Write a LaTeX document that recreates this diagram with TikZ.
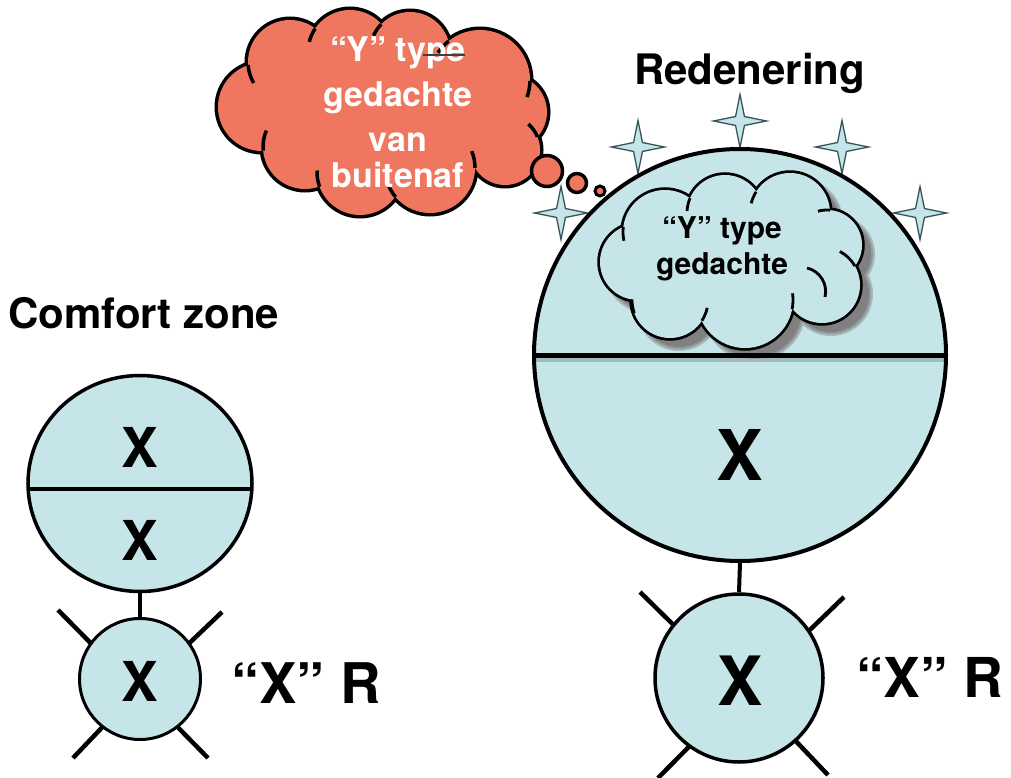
\documentclass[tikz,border=0pt]{standalone}
\usepackage{fontspec}
\setmainfont{TeX Gyre Heros}
\usetikzlibrary{shapes.geometric}

\definecolor{paleblue}{HTML}{C5E5E9}
\definecolor{salmon}{HTML}{EF775F}
\definecolor{starline}{HTML}{35555B}
\definecolor{lineshade}{HTML}{9EBBBF}
\definecolor{shadowgray}{HTML}{808080}

\newcommand\boldsize[2]{\fontsize{#1}{#2}\selectfont\bfseries}
% inner stroke of a cloud: part of a lobe circle (cx, cy, r, from, to, style)
\newcommand\lobehook[6]{\draw[#6] (#1,#2) ++(#4:#3) arc[start angle=#4, end angle=#5, radius=#3];}

% lobes of the two thought clouds: x/y/radius
\def\redlobes{262/107/44, 290/62/42, 350/52/42, 410/52/40, 480/80/50, 510/112/37, 505/150/35, 430/168/45, 360/172/43, 305/147/42}
\def\bluelobes{665/232/42, 725/213/38, 790/213/40, 827/245/35, 822/285/38, 745/300/48, 670/300/38, 638/262/38}

\begin{document}
\begin{tikzpicture}[x=1pt,y=-1pt,
  title/.style={font=\boldsize{42}{50}, inner sep=0pt, anchor=base west},
  body/.style={draw=black, fill=paleblue, inner sep=0pt},
  limb/.style={line width=4.5pt},
  neck/.style={line width=4pt},
  sparkle/.style={star, star points=4, star point ratio=4.2, minimum size=53pt,
    inner sep=0pt, draw=starline, fill=paleblue, line width=1.3pt},
  redtext/.style={font=\boldsize{34}{41}, text=white, inner sep=0pt, anchor=base},
  bluetext/.style={font=\boldsize{30}{36}, inner sep=0pt, anchor=base},
  redhook/.style={line width=3.5pt},
  bluehook/.style={line width=2.8pt},
  letter/.style={inner sep=0pt}]
\useasboundingbox (0,0) rectangle (1011,778);

% ---------- titles ----------
\node[title] (tComfort) at (8,328) {Comfort zone};
\node[title] (tRed) at (634,85) {Redenering};

% ---------- left figure ----------
\node[body, ellipse, minimum width=224pt, minimum height=216pt, line width=3.5pt,
  path picture={\draw[line width=4pt]
    ([yshift=-5.5pt]path picture bounding box.west) --
    ([yshift=-5.5pt]path picture bounding box.east);}] (bodyL) at (140,483.5) {};
\node[letter, font=\boldsize{55}{66}] (xL1) at (140,447.5) {X};
\node[letter, font=\boldsize{55}{66}] (xL2) at (140,540) {X};

\coordinate (lUL) at (58,610);
\coordinate (lUR) at (222,612);
\coordinate (lLL) at (73,758);
\coordinate (lLR) at (208,758);
\node[circle, minimum size=121pt, inner sep=0pt] (headL) at (140,679) {};
\draw[limb] (lUL) -- (headL.144);
\draw[limb] (lUR) -- (headL.36);
\draw[limb] (lLL) -- (headL.232);
\draw[limb] (lLR) -- (headL.308);
\node[body, circle, minimum size=121pt, line width=3pt] (headLc) at (140,679) {};
\draw[neck] (bodyL.south) -- (headLc.north);
\node[letter, font=\boldsize{55}{66}] (xL3) at (140,681) {X};
\node[font=\boldsize{56}{67}, inner sep=0pt, anchor=base west] (rL) at (231,703) {“X” R};

% ---------- right figure ----------
\node[sparkle] (st1) at (638,147) {};
\node[sparkle] (st2) at (740,121) {};
\node[sparkle] (st3) at (842,147) {};
\node[sparkle] (st4) at (920,213) {};
\node[sparkle] (st5) at (561,213) {};

\node[body, circle, minimum size=412pt, line width=4pt,
  path picture={\fill[lineshade]
    ([yshift=-2.5pt]path picture bounding box.west) rectangle
    ([yshift=-7pt]path picture bounding box.east);}] (bodyR) at (740,355) {};

% soft shadow of the inner thought cloud
\foreach \dr/\col in {4/paleblue!55!shadowgray, 2/paleblue!25!shadowgray, 0/shadowgray} {
  \foreach \x/\y/\r in \bluelobes
    \fill[\col] (\x+9,\y+9) circle[radius=\r+\dr];
}
% inner thought cloud: outline first, then fill over the inner strokes
\foreach \x/\y/\r in \bluelobes
  \draw[line width=5.5pt] (\x,\y) circle[radius=\r];
\foreach \x/\y/\r in \bluelobes
  \fill[paleblue] (\x,\y) circle[radius=\r];
\fill[paleblue] (731,262) ellipse[x radius=95, y radius=50];
\lobehook{725}{213}{38}{203}{183}{bluehook}
\lobehook{790}{213}{40}{212}{194}{bluehook}
\lobehook{827}{245}{35}{275}{255}{bluehook}
\lobehook{822}{285}{38}{-30}{-62}{bluehook}
\lobehook{745}{300}{48}{11}{-8}{bluehook}
\lobehook{670}{300}{38}{33}{12}{bluehook}
\lobehook{670}{300}{38}{181}{160}{bluehook}
\lobehook{665}{232}{42}{187}{168}{bluehook}
\draw[bluehook] (807,268) to[bend left=45] (825,297);
\node[bluetext] (bt1) at (722,238) {“Y” type};
\node[bluetext] (bt2) at (722,274) {gedachte};

\draw[line width=5pt] (bodyR.west) -- (bodyR.east);
\node[letter, font=\boldsize{70}{84}] (xR1) at (740,455) {X};

\coordinate (rUL) at (640,592);
\coordinate (rUR) at (844,597);
\coordinate (rLL) at (658,778);
\coordinate (rLR) at (828,775);
\node[circle, minimum size=168pt, inner sep=0pt] (headR) at (739,678) {};
\draw[limb] (rUL) -- (headR.141);
\draw[limb] (rUR) -- (headR.34);
\draw[limb] (rLL) -- (headR.234);
\draw[limb] (rLR) -- (headR.312);
\node[body, circle, minimum size=168pt, line width=3.5pt] (headRc) at (739,678) {};
\draw[neck] (bodyR.south) -- (headRc.north);
\node[letter, font=\boldsize{68}{80}] (xR2) at (740,681) {X};
\node[font=\boldsize{55}{66}, inner sep=0pt, anchor=base west] (rR) at (856,697) {“X” R};

% ---------- outer thought cloud ----------
\foreach \x/\y/\r in \redlobes
  \draw[line width=7pt] (\x,\y) circle[radius=\r];
\foreach \x/\y/\r in \redlobes
  \fill[salmon] (\x,\y) circle[radius=\r];
\fill[salmon] (385,112) ellipse[x radius=120, y radius=60];
\lobehook{290}{62}{42}{176}{150}{redhook}
\lobehook{350}{52}{42}{214}{194}{redhook}
\lobehook{410}{52}{40}{224}{204}{redhook}
\lobehook{480}{80}{50}{231}{213}{redhook}
\lobehook{480}{80}{50}{1}{20}{redhook}
\lobehook{505}{150}{35}{-22}{-48}{redhook}
\lobehook{430}{168}{45}{0}{-22}{redhook}
\lobehook{430}{168}{45}{140}{162}{redhook}
\lobehook{360}{172}{43}{160}{182}{redhook}
\lobehook{305}{147}{42}{175}{203}{redhook}

\node[draw, line width=3.5pt, fill=salmon, circle, minimum size=31pt, inner sep=0pt] (bub1) at (547,171) {};
\node[draw, line width=3.5pt, fill=salmon, circle, minimum size=19pt, inner sep=0pt] (bub2) at (577,183) {};
\node[draw, line width=3pt, fill=salmon, circle, minimum size=10pt, inner sep=0pt] (bub3) at (600,191) {};

\node[redtext] (rt1) at (398,62) {“Y” type};
\node[redtext] (rt2) at (398,107) {gedachte};
\node[redtext] (rt3) at (398,152) {van};
\node[redtext] (rt4) at (398,188) {buitenaf};
\draw[line width=1.5pt, black!75] (423,55) -- (465,55);
\end{tikzpicture}
\end{document}
